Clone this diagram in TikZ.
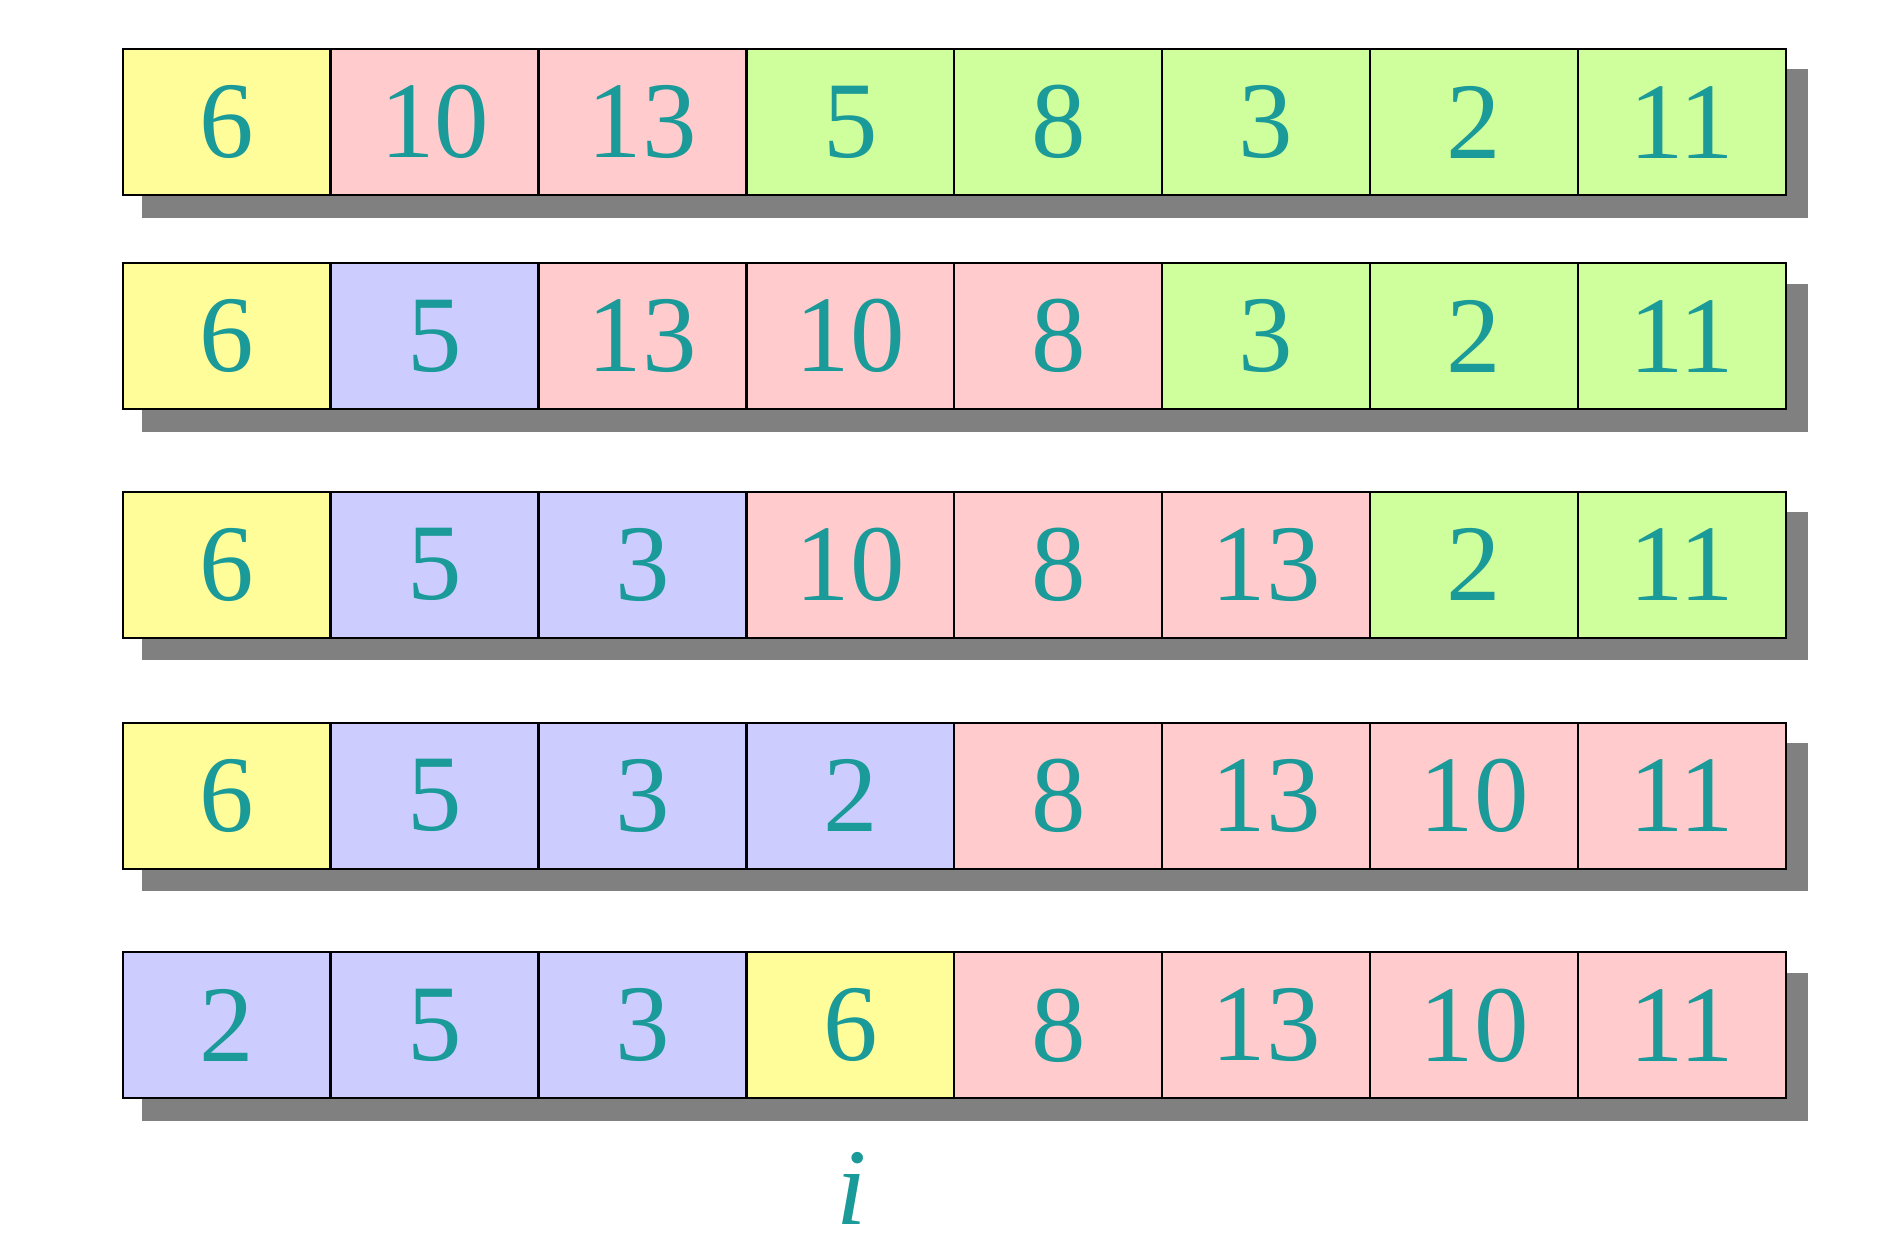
\documentclass[tikz,border=0pt]{standalone}
\usepackage{fontspec}
\setmainfont{Liberation Serif}
\usetikzlibrary{calc}
\usetikzlibrary{backgrounds}

\definecolor{pivy}{HTML}{FFFC9A}
\definecolor{lowb}{HTML}{CCCCFF}
\definecolor{highr}{HTML}{FFCBCC}
\definecolor{restg}{HTML}{CFFF9C}
\definecolor{numteal}{HTML}{1A9A98}
\definecolor{shadowgray}{HTML}{808080}

\tikzset{
  cell/.style={draw, line width=1.3pt, rectangle, minimum width=4.158cm, minimum height=2.92cm,
    inner sep=0pt, text=numteal, font=\fontsize{62}{70}\selectfont},
  rowshadow/.style={fill=shadowgray}
}

\begin{document}
\begin{tikzpicture}[x=0.02cm, y=-0.02cm]
  \useasboundingbox (0,0) rectangle (1886,1254);

  % first row
  \foreach \v/\c [count=\k] in {6/pivy,10/highr,13/highr,5/restg,8/restg,3/restg,2/restg,11/restg}
    \node[cell, fill=\c] (ra\k) at (18.75+207.9*\k,122.1) {\v};

  % second row
  \foreach \v/\c [count=\k] in {6/pivy,5/lowb,13/highr,10/highr,8/highr,3/restg,2/restg,11/restg}
    \node[cell, fill=\c] (rb\k) at (18.75+207.9*\k,336.2) {\v};

  % third row
  \foreach \v/\c [count=\k] in {6/pivy,5/lowb,3/lowb,10/highr,8/highr,13/highr,2/restg,11/restg}
    \node[cell, fill=\c] (rc\k) at (18.75+207.9*\k,564.7) {\v};

  % fourth row
  \foreach \v/\c [count=\k] in {6/pivy,5/lowb,3/lowb,2/lowb,8/highr,13/highr,10/highr,11/highr}
    \node[cell, fill=\c] (rd\k) at (18.75+207.9*\k,795.7) {\v};

  % last row, pivot swapped in
  \foreach \v/\c [count=\k] in {2/lowb,5/lowb,3/lowb,6/pivy,8/highr,13/highr,10/highr,11/highr}
    \node[cell, fill=\c] (re\k) at (18.75+207.9*\k,1025.3) {\v};

  \begin{pgfonlayer}{background}
    \foreach \r in {ra,rb,rc,rd,re}
      \fill[rowshadow] ($(\r1.north west)+(20.5,21.5)$) rectangle ($(\r8.south east)+(20.5,21.5)$);
  \end{pgfonlayer}

  \node[anchor=base, text=numteal, font=\fontsize{62}{70}\selectfont\itshape] (idx) at (851.6,1224) {i};
\end{tikzpicture}
\end{document}
